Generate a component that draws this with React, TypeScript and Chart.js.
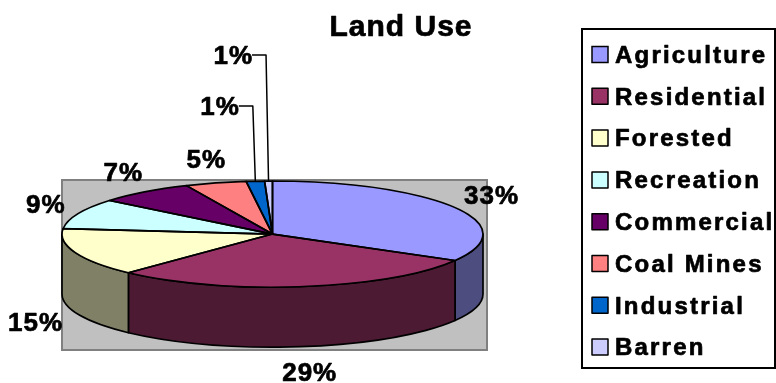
import React, { useEffect, useRef } from "react";
import { Chart, registerables } from "chart.js";

Chart.register(...registerables);

const categories = ["Agriculture", "Residential", "Forested", "Recreation", "Commercial", "Coal Mines", "Industrial", "Barren"];
const shares = [33.3, 28.7, 14.6, 9.3, 7.4, 4.7, 1.4, 0.6];
const sliceColors = ["#9999FF", "#993366", "#FFFFCC", "#CCFFFF", "#660066", "#FF8080", "#0066CC", "#CCCCFF"];
const titleText = "Land Use";

const FONT = '"Liberation Sans", Arial, Helvetica, sans-serif';

function darken(hex: string, f = 0.5): string {
  const n = parseInt(hex.slice(1), 16);
  const r = Math.round(((n >> 16) & 255) * f);
  const g = Math.round(((n >> 8) & 255) * f);
  const b = Math.round((n & 255) * f);
  return `rgb(${r},${g},${b})`;
}

function geom(chart: any) {
  const a = chart.chartArea;
  const rx = (a.right - a.left - 4) / 2;
  const cx = a.left + rx;
  const ry = rx * 0.252;
  const depth = rx * 0.285;
  const cy = a.top + 1 + ry;
  return { cx, cy, rx, ry, depth };
}

function arcAngles(arc: any) {
  const p = arc.getProps(["startAngle", "endAngle"], true);
  return { s: p.startAngle as number, e: p.endAngle as number };
}

function boldText(ctx: CanvasRenderingContext2D, t: string, x: number, y: number) {
  ctx.fillText(t, x, y);
  ctx.lineWidth = 0.7;
  ctx.strokeStyle = ctx.fillStyle as string;
  ctx.lineJoin = "round";
  ctx.strokeText(t, x, y);
}

const pie3d = {
  id: "pie3d",
  beforeDatasetsDraw(chart: any) {
    const ctx = chart.ctx as CanvasRenderingContext2D;
    const a = chart.chartArea;
    ctx.save();
    ctx.fillStyle = "#C0C0C0";
    ctx.fillRect(a.left, a.top, a.right - a.left, a.bottom - a.top);
    ctx.strokeStyle = "#808080";
    ctx.lineWidth = 2;
    ctx.strokeRect(a.left, a.top, a.right - a.left, a.bottom - a.top);
    ctx.restore();

    const g = geom(chart);
    const meta = chart.getDatasetMeta(0);
    const colors = chart.data.datasets[0].backgroundColor as string[];
    ctx.save();
    meta.data.forEach((arc: any, i: number) => {
      const { s: s0, e: e0 } = arcAngles(arc);
      const s = Math.max(s0, 0);
      const e = Math.min(e0, Math.PI);
      if (e <= s) return;
      ctx.beginPath();
      ctx.ellipse(g.cx, g.cy, g.rx, g.ry, 0, s, e, false);
      ctx.lineTo(g.cx + g.rx * Math.cos(e), g.cy + g.depth + g.ry * Math.sin(e));
      ctx.ellipse(g.cx, g.cy + g.depth, g.rx, g.ry, 0, e, s, true);
      ctx.closePath();
      ctx.fillStyle = darken(colors[i]);
      ctx.fill();
      ctx.lineWidth = 1.7;
      ctx.strokeStyle = "#000";
      ctx.lineJoin = "round";
      ctx.stroke();
    });
    ctx.restore();

    const el = meta.data[0];
    ctx.save();
    ctx.translate(g.cx, g.cy);
    ctx.scale(g.rx / el.outerRadius, g.ry / el.outerRadius);
    ctx.translate(-el.x, -el.y);
  },
  afterDatasetsDraw(chart: any) {
    const ctx = chart.ctx as CanvasRenderingContext2D;
    ctx.restore();
    const g = geom(chart);
    const meta = chart.getDatasetMeta(0);
    const data = chart.data.datasets[0].data as number[];
    const colors = chart.data.datasets[0].backgroundColor as string[];
    const labels = chart.data.labels as string[];
    const total = data.reduce((p, v) => p + v, 0);

    // outlines of the top faces
    ctx.save();
    ctx.strokeStyle = "#000";
    ctx.lineWidth = 1.7;
    ctx.lineJoin = "round";
    meta.data.forEach((arc: any) => {
      const { s, e } = arcAngles(arc);
      ctx.beginPath();
      ctx.moveTo(g.cx, g.cy);
      ctx.ellipse(g.cx, g.cy, g.rx, g.ry, 0, s, e, false);
      ctx.closePath();
      ctx.stroke();
    });
    ctx.restore();

    // percentage labels
    ctx.save();
    ctx.fillStyle = "#000";
    ctx.font = `bold 26px ${FONT}`;
    (ctx as any).letterSpacing = "1px";
    const cap = 26 * 0.358;
    let smallIdx = 0;
    meta.data.forEach((arc: any, i: number) => {
      const { s, e } = arcAngles(arc);
      const mid = (s + e) / 2;
      const frac = data[i] / total;
      const txt = Math.round(frac * 100) + "%";
      const c = Math.cos(mid);
      const sn = Math.sin(mid);
      if (frac < 0.02) {
        const ax = g.cx + g.rx * c;
        const ay = g.cy + g.ry * sn;
        const ly = g.cy - g.ry - 75 - 51 * smallIdx;
        const elbow = ax - 2.5;
        ctx.lineWidth = 1.5;
        ctx.strokeStyle = "#000";
        ctx.beginPath();
        ctx.moveTo(elbow - 14, ly);
        ctx.lineTo(elbow, ly);
        ctx.lineTo(ax, ay);
        ctx.stroke();
        ctx.textAlign = "right";
        ctx.textBaseline = "alphabetic";
        boldText(ctx, txt, elbow - 13, ly + cap);
        smallIdx++;
      } else {
        const w = ctx.measureText(txt).width;
        const x = g.cx + (g.rx + 15 + w / 2) * c;
        const y = g.cy + (g.ry + 25) * sn + (sn > 0 ? g.depth : 0);
        ctx.textAlign = "center";
        ctx.textBaseline = "alphabetic";
        boldText(ctx, txt, x, y + cap);
      }
    });
    ctx.restore();

    // title
    ctx.save();
    ctx.fillStyle = "#000";
    ctx.font = `bold 30px ${FONT}`;
    (ctx as any).letterSpacing = "1px";
    ctx.textAlign = "center";
    ctx.textBaseline = "alphabetic";
    boldText(ctx, titleText, 401, 36);
    ctx.restore();

    // legend
    ctx.save();
    const lx = 582, ly = 29, lw = 193, lh = 339;
    ctx.strokeStyle = "#000";
    ctx.lineWidth = 2;
    ctx.strokeRect(lx, ly, lw, lh);
    ctx.font = `bold 24px ${FONT}`;
    (ctx as any).letterSpacing = "2.2px";
    ctx.textAlign = "left";
    ctx.textBaseline = "alphabetic";
    labels.forEach((lab, i) => {
      const yc = 54.5 + i * 41.8;
      ctx.fillStyle = colors[i];
      ctx.fillRect(592, yc - 8, 16, 16);
      ctx.lineWidth = 1.5;
      ctx.strokeStyle = "#000";
      ctx.strokeRect(592, yc - 8, 16, 16);
      ctx.fillStyle = "#000";
      boldText(ctx, lab, 615, yc + 8.3);
    });
    ctx.restore();
  },
};

export default function App() {
  const ref = useRef<HTMLCanvasElement | null>(null);
  useEffect(() => {
    if (!ref.current) return;
    const chart = new Chart(ref.current, {
      type: "pie",
      data: {
        labels: categories,
        datasets: [
          {
            data: shares,
            backgroundColor: sliceColors,
            borderWidth: 0,
            clip: false,
          } as any,
        ],
      },
      options: {
        responsive: false,
        animation: false,
        events: [],
        layout: { padding: { left: 62, top: 180, right: 289, bottom: 33 } },
        plugins: {
          legend: { display: false },
          title: { display: false },
          tooltip: { enabled: false },
        },
      },
      plugins: [pie3d],
    });
    return () => chart.destroy();
  }, []);
  return (
    <div style={{ position: "fixed", left: 0, top: 0, width: 776, height: 383, background: "#fff" }}>
      <canvas ref={ref} width={776} height={383} style={{ display: "block" }} />
    </div>
  );
}
